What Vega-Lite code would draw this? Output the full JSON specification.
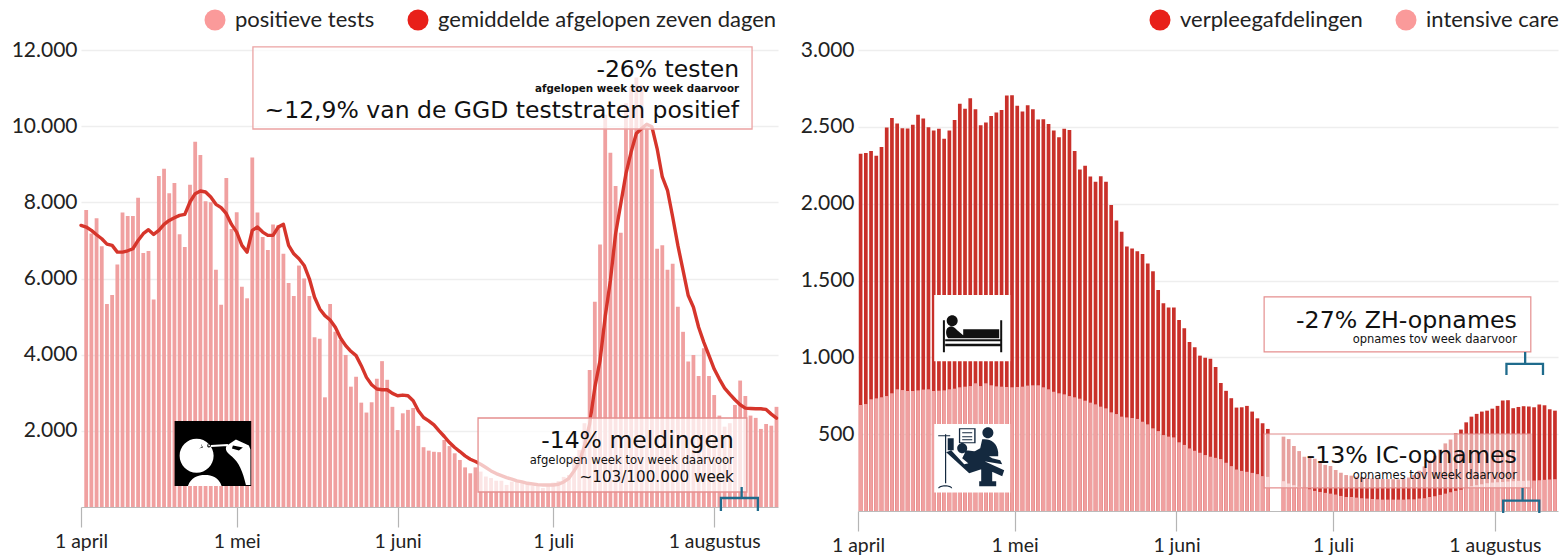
{
"$schema":"https://vega.github.io/schema/vega-lite/v6.json",
"padding":{"left":11,"top":9,"right":0,"bottom":0},
"background":"white",
"spacing":21,
"config":{"view":{"stroke":null},"text":{"font":"DejaVu Sans","color":"#111"},
"axisX":{"grid":false,"tickSize":20,"tickColor":"#b5b5b5","tickWidth":1.2,"domainColor":"#bbbbbb","domainWidth":1,"labelFont":"Lato","labelFontSize":19.4,"labelColor":"#222","labelPadding":5,"title":null,"labelFlush":false,"labelOverlap":false,"labelBound":false,"labelExpr":"'1 ' + ['januari','februari','maart','april','mei','juni','juli','augustus'][month(datum.value)]"},
"axisY":{"grid":true,"gridColor":"#eeeeee","gridWidth":1.5,"domain":false,"ticks":false,"labelFont":"Lato","labelFontSize":21,"labelColor":"#222","labelPadding":4,"title":null,"labelExpr":"replace(format(datum.value,','),',','.')"},
"legend":{"orient":"none","direction":"horizontal","title":null,"symbolType":"circle","symbolSize":441,"symbolStrokeWidth":0,"labelFont":"Lato","labelFontSize":22,"labelLimit":600,"labelColor":"#222","labelOffset":9,"columnPadding":32}
},
"resolve":{"scale":{"color":"independent","x":"independent","y":"independent"},"legend":{"color":"independent"}},
"hconcat":[
{"width":697,"height":457,
"layer":[
{"data":{"name":"daily","values":[
{"date":"2021-04-01T00:00","avg":7395},
{"date":"2021-04-02T00:00","tests":7800,"avg":7351},{"date":"2021-04-03T00:00","tests":7180,"avg":7263},{"date":"2021-04-04T00:00","tests":7580,"avg":7149},{"date":"2021-04-05T00:00","tests":6850,"avg":7044},{"date":"2021-04-06T00:00","tests":5330,"avg":6904},{"date":"2021-04-07T00:00","tests":5567,"avg":6869},{"date":"2021-04-08T00:00","tests":6370,"avg":6693},{"date":"2021-04-09T00:00","tests":7730,"avg":6693},{"date":"2021-04-10T00:00","tests":7640,"avg":6728},{"date":"2021-04-11T00:00","tests":7640,"avg":6781},{"date":"2021-04-12T00:00","tests":8120,"avg":7000},{"date":"2021-04-13T00:00","tests":6670,"avg":7176},{"date":"2021-04-14T00:00","tests":6720,"avg":7281},{"date":"2021-04-15T00:00","tests":5450,"avg":7158},{"date":"2021-04-16T00:00","tests":8690,"avg":7263},{"date":"2021-04-17T00:00","tests":8880,"avg":7421},{"date":"2021-04-18T00:00","tests":8240,"avg":7526},{"date":"2021-04-19T00:00","tests":8510,"avg":7597},{"date":"2021-04-20T00:00","tests":7160,"avg":7658},{"date":"2021-04-21T00:00","tests":6825,"avg":7684},{"date":"2021-04-22T00:00","tests":8460,"avg":8009},{"date":"2021-04-23T00:00","tests":9590,"avg":8228},{"date":"2021-04-24T00:00","tests":9240,"avg":8298},{"date":"2021-04-25T00:00","tests":8030,"avg":8272},{"date":"2021-04-26T00:00","tests":8000,"avg":8140},{"date":"2021-04-27T00:00","tests":6230,"avg":7947},{"date":"2021-04-28T00:00","tests":5310,"avg":7860},{"date":"2021-04-29T00:00","tests":8640,"avg":7702},{"date":"2021-04-30T00:00","tests":7300,"avg":7421},
{"date":"2021-05-01T00:00","tests":7740,"avg":7219},{"date":"2021-05-02T00:00","tests":5785,"avg":6869},{"date":"2021-05-03T00:00","tests":5480,"avg":6693},{"date":"2021-05-04T00:00","tests":9175,"avg":7263},{"date":"2021-05-05T00:00","tests":7730,"avg":7351},{"date":"2021-05-06T00:00","tests":7090,"avg":7219},{"date":"2021-05-07T00:00","tests":6750,"avg":7132},{"date":"2021-05-08T00:00","tests":7420,"avg":7132},{"date":"2021-05-09T00:00","tests":7400,"avg":7351},{"date":"2021-05-10T00:00","tests":6650,"avg":7421},{"date":"2021-05-11T00:00","tests":5880,"avg":6869},{"date":"2021-05-12T00:00","tests":5540,"avg":6649},{"date":"2021-05-13T00:00","tests":6340,"avg":6518},{"date":"2021-05-14T00:00","tests":6000,"avg":6343},{"date":"2021-05-15T00:00","tests":5540,"avg":5992},{"date":"2021-05-16T00:00","tests":4460,"avg":5508},{"date":"2021-05-17T00:00","tests":4420,"avg":5201},{"date":"2021-05-18T00:00","tests":2880,"avg":5026},{"date":"2021-05-19T00:00","tests":5330,"avg":4912},{"date":"2021-05-20T00:00","tests":4600,"avg":4719},{"date":"2021-05-21T00:00","tests":4385,"avg":4438},{"date":"2021-05-22T00:00","tests":3990,"avg":4237},{"date":"2021-05-23T00:00","tests":3160,"avg":4088},{"date":"2021-05-24T00:00","tests":3420,"avg":3974},{"date":"2021-05-25T00:00","tests":2740,"avg":3711},{"date":"2021-05-26T00:00","tests":2480,"avg":3404},{"date":"2021-05-27T00:00","tests":2750,"avg":3211},{"date":"2021-05-28T00:00","tests":3370,"avg":3097},{"date":"2021-05-29T00:00","tests":3830,"avg":3079},{"date":"2021-05-30T00:00","tests":3340,"avg":3079},{"date":"2021-05-31T00:00","tests":2630,"avg":2983},
{"date":"2021-06-01T00:00","tests":2020,"avg":2921},{"date":"2021-06-02T00:00","tests":2460,"avg":2939},{"date":"2021-06-03T00:00","tests":2550,"avg":2921},{"date":"2021-06-04T00:00","tests":2600,"avg":2790},{"date":"2021-06-05T00:00","tests":2130,"avg":2527},{"date":"2021-06-06T00:00","tests":1570,"avg":2351},{"date":"2021-06-07T00:00","tests":1480,"avg":2263},{"date":"2021-06-08T00:00","tests":1450,"avg":2158},{"date":"2021-06-09T00:00","tests":1440,"avg":2000},{"date":"2021-06-10T00:00","tests":1760,"avg":1851},{"date":"2021-06-11T00:00","tests":1600,"avg":1693},{"date":"2021-06-12T00:00","tests":1410,"avg":1562},{"date":"2021-06-13T00:00","tests":1235,"avg":1456},{"date":"2021-06-14T00:00","tests":1040,"avg":1343},{"date":"2021-06-15T00:00","tests":885,"avg":1255},{"date":"2021-06-16T00:00","tests":1040,"avg":1194},{"date":"2021-06-17T00:00","tests":930,"avg":1123},{"date":"2021-06-18T00:00","tests":800,"avg":1036},{"date":"2021-06-19T00:00","tests":760,"avg":948},{"date":"2021-06-20T00:00","tests":690,"avg":878},{"date":"2021-06-21T00:00","tests":690,"avg":825},{"date":"2021-06-22T00:00","tests":580,"avg":773},{"date":"2021-06-23T00:00","tests":665,"avg":729},{"date":"2021-06-24T00:00","tests":665,"avg":684},{"date":"2021-06-25T00:00","tests":630,"avg":658},{"date":"2021-06-26T00:00","tests":620,"avg":623},{"date":"2021-06-27T00:00","tests":550,"avg":605},{"date":"2021-06-28T00:00","tests":600,"avg":588},{"date":"2021-06-29T00:00","tests":500,"avg":579},{"date":"2021-06-30T00:00","tests":600,"avg":579},
{"date":"2021-07-01T00:00","tests":640,"avg":579},{"date":"2021-07-02T00:00","tests":680,"avg":597},{"date":"2021-07-03T00:00","tests":790,"avg":658},{"date":"2021-07-04T00:00","tests":840,"avg":754},{"date":"2021-07-05T00:00","tests":1320,"avg":948},{"date":"2021-07-06T00:00","tests":1500,"avg":1167},{"date":"2021-07-07T00:00","tests":2200,"avg":1606},{"date":"2021-07-08T00:00","tests":3600,"avg":2176},{"date":"2021-07-09T00:00","tests":5390,"avg":3140},{"date":"2021-07-10T00:00","tests":6890,"avg":3842},{"date":"2021-07-11T00:00","tests":10300,"avg":5000},{"date":"2021-07-12T00:00","tests":9300,"avg":5950},{"date":"2021-07-13T00:00","tests":8430,"avg":7176},{"date":"2021-07-14T00:00","tests":7200,"avg":7965},{"date":"2021-07-15T00:00","tests":10600,"avg":8754},{"date":"2021-07-16T00:00","tests":11030,"avg":9324},{"date":"2021-07-17T00:00","tests":11280,"avg":9807},{"date":"2021-07-18T00:00","tests":11080,"avg":9938},{"date":"2021-07-19T00:00","tests":9980,"avg":10052},{"date":"2021-07-20T00:00","tests":8870,"avg":9982},{"date":"2021-07-21T00:00","tests":6780,"avg":9412},{"date":"2021-07-22T00:00","tests":6870,"avg":8666},{"date":"2021-07-23T00:00","tests":6230,"avg":8316},{"date":"2021-07-24T00:00","tests":6390,"avg":7614},{"date":"2021-07-25T00:00","tests":5260,"avg":6869},{"date":"2021-07-26T00:00","tests":4600,"avg":6211},{"date":"2021-07-27T00:00","tests":3820,"avg":5552},{"date":"2021-07-28T00:00","tests":3990,"avg":5245},{"date":"2021-07-29T00:00","tests":3440,"avg":4719},{"date":"2021-07-30T00:00","tests":4170,"avg":4324},{"date":"2021-07-31T00:00","tests":3440,"avg":3974},
{"date":"2021-08-01T00:00","tests":2940,"avg":3623},{"date":"2021-08-02T00:00","tests":2400,"avg":3360},{"date":"2021-08-03T00:00","tests":2110,"avg":3123},{"date":"2021-08-04T00:00","tests":2200,"avg":2965},{"date":"2021-08-05T00:00","tests":2680,"avg":2816},{"date":"2021-08-06T00:00","tests":3320,"avg":2685},{"date":"2021-08-07T00:00","tests":2915,"avg":2597},{"date":"2021-08-08T00:00","tests":2400,"avg":2588},{"date":"2021-08-09T00:00","tests":2340,"avg":2579},{"date":"2021-08-10T00:00","tests":2050,"avg":2579},{"date":"2021-08-11T00:00","tests":2180,"avg":2562},{"date":"2021-08-12T00:00","tests":2135,"avg":2439},{"date":"2021-08-13T00:00","tests":2630,"avg":2334}
]},
"mark":{"type":"bar","size":3.8,"color":"#f0a0a0"},
"encoding":{
"x":{"field":"date","type":"temporal","scale":{"domain":["2021-04-01T00:00","2021-08-13T07:00"],"padding":0},"axis":{"values":[{"year":2021,"month":"apr","date":1},{"year":2021,"month":"may","date":1},{"year":2021,"month":"jun","date":1},{"year":2021,"month":"jul","date":1},{"year":2021,"month":"aug","date":1}]}},
"y":{"field":"tests","type":"quantitative","scale":{"domain":[0,12000],"nice":false},"axis":{"values":[2000,4000,6000,8000,10000,12000]},"stack":null}
}},
{"data":{"values":[{"series":"positieve tests"}]},"transform":[{"filter":"false"}],"mark":{"type":"bar"},
"encoding":{"color":{"field":"series","type":"nominal","scale":{"domain":["positieve tests","gemiddelde afgelopen zeven dagen"],"range":["#fa9a9a","#e8201a"]},"legend":{"legendX":123,"legendY":-41}}}},
{"data":{"name":"daily"},"mark":{"type":"line","color":"#d6352b","strokeWidth":3.4,"strokeCap":"round","strokeJoin":"round"},
"encoding":{"x":{"field":"date","type":"temporal"},"y":{"field":"avg","type":"quantitative"}}},
{"data":{"values":[{"start":"2021-05-04T03:00","end":"2021-08-08T07:00","top":12080,"bottom":9926}]},
"mark":{"type":"rect","fill":"white","fillOpacity":0.72,"stroke":"#eba3a3","strokeWidth":1.3},
"encoding":{"x":{"field":"start","type":"temporal"},"x2":{"field":"end"},"y":{"field":"top","type":"quantitative"},"y2":{"field":"bottom"}}},
{"data":{"values":[{"start":"2021-06-16T12:00","end":"2021-08-07T07:00","top":2337,"bottom":394}]},
"mark":{"type":"rect","fill":"white","fillOpacity":0.72,"stroke":"#e58f8f","strokeWidth":1.3},
"encoding":{"x":{"field":"start","type":"temporal"},"x2":{"field":"end"},"y":{"field":"top","type":"quantitative"},"y2":{"field":"bottom"}}},
{"data":{"values":[{"date":"2021-08-05T19:00","v":11292,"t":"-26% testen"},{"date":"2021-08-05T19:00","v":10215,"t":"~12,9% van de GGD teststraten positief"},{"date":"2021-08-04T19:00","v":1541,"t":"-14% meldingen"}]},
"mark":{"type":"text","align":"right","baseline":"alphabetic","fontSize":23.5},
"encoding":{"x":{"field":"date","type":"temporal"},"y":{"field":"v","type":"quantitative"},"text":{"field":"t"}}},
{"data":{"values":[{"date":"2021-08-05T19:00","v":10885,"t":"afgelopen week tov week daarvoor"}]},
"mark":{"type":"text","align":"right","baseline":"alphabetic","fontSize":10.3,"fontWeight":"bold"},
"encoding":{"x":{"field":"date","type":"temporal"},"y":{"field":"v","type":"quantitative"},"text":{"field":"t"}}},
{"data":{"values":[{"date":"2021-08-04T19:00","v":1121,"t":"afgelopen week tov week daarvoor"}]},
"mark":{"type":"text","align":"right","baseline":"alphabetic","fontSize":11.6},
"encoding":{"x":{"field":"date","type":"temporal"},"y":{"field":"v","type":"quantitative"},"text":{"field":"t"}}},
{"data":{"values":[{"date":"2021-08-04T19:00","v":664,"t":"~103/100.000 week"}]},
"mark":{"type":"text","align":"right","baseline":"alphabetic","fontSize":15.2},
"encoding":{"x":{"field":"date","type":"temporal"},"y":{"field":"v","type":"quantitative"},"text":{"field":"t"}}},
{"data":{"values":[{"i":1,"date":"2021-08-02T07:00","v":-105},{"i":2,"date":"2021-08-02T07:00","v":236},{"i":3,"date":"2021-08-06T07:00","v":236},{"i":4,"date":"2021-08-06T07:00","v":525},{"i":5,"date":"2021-08-06T07:00","v":236},{"i":6,"date":"2021-08-09T10:00","v":236},{"i":7,"date":"2021-08-09T10:00","v":-105}]},
"mark":{"type":"line","color":"#1f6b8c","strokeWidth":2.3},
"encoding":{"x":{"field":"date","type":"temporal"},"y":{"field":"v","type":"quantitative"},"order":{"field":"i"}}},
{"data":{"values":[{"date":"2021-04-26T10:00","v":1405}]},"mark":{"type":"point","filled":true,"opacity":1,"size":4,"color":"#000","strokeWidth":0,"shape":"M-38.3 -32.5H38.3V32.5H-38.3Z"},
"encoding":{"x":{"field":"date","type":"temporal"},"y":{"field":"v","type":"quantitative"}}},
{"data":{"values":[{"date":"2021-04-26T10:00","v":1405}]},"mark":{"type":"point","filled":true,"opacity":1,"size":4,"color":"#fff","strokeWidth":0,"shape":"M-33.3 2.2A17 17 0 1 1 0.7 2.2A17 17 0 1 1 -33.3 2.2ZM-25 32.5C-22 24 -15 21.5 -8 21.5C-1 21.5 6 24 8.7 32.5ZM14 -8L23 -14L36 -8L37.5 -4V31.5H33C30 18 26 9 19 3C15 0 11 -4 14 -8ZM-2 -8.5L15 -9.5V-7.5L-2 -6.5Z"},
"encoding":{"x":{"field":"date","type":"temporal"},"y":{"field":"v","type":"quantitative"}}},
{"data":{"values":[{"date":"2021-04-26T10:00","v":1405}]},"mark":{"type":"point","filled":true,"opacity":1,"size":4,"color":"#000","strokeWidth":0,"shape":"M-12 -10L-10 -6L-14 -5L-11 -6.5ZM-5 -10C-7 -6 -4 -5 -2 -7L-3 -7.5C-4 -6.5 -5.5 -7 -4 -10ZM20 -8L30 -6L26 -3L19 -5Z"},
"encoding":{"x":{"field":"date","type":"temporal"},"y":{"field":"v","type":"quantitative"}}}
]},
{"width":700,"height":461,
"layer":[
{"data":{"name":"hospital","values":[
{"date":"2021-04-01T12:00","total":2325,"ic":690},{"date":"2021-04-02T12:00","total":2329,"ic":696},{"date":"2021-04-03T12:00","total":2342,"ic":727},{"date":"2021-04-04T12:00","total":2312,"ic":733},{"date":"2021-04-05T12:00","total":2369,"ic":740},{"date":"2021-04-06T12:00","total":2496,"ic":748},{"date":"2021-04-07T12:00","total":2557,"ic":766},{"date":"2021-04-08T12:00","total":2522,"ic":792},{"date":"2021-04-09T12:00","total":2491,"ic":787},{"date":"2021-04-10T12:00","total":2489,"ic":781},{"date":"2021-04-11T12:00","total":2513,"ic":781},{"date":"2021-04-12T12:00","total":2579,"ic":785},{"date":"2021-04-13T12:00","total":2555,"ic":790},{"date":"2021-04-14T12:00","total":2498,"ic":792},{"date":"2021-04-15T12:00","total":2476,"ic":781},{"date":"2021-04-16T12:00","total":2487,"ic":783},{"date":"2021-04-17T12:00","total":2423,"ic":785},{"date":"2021-04-18T12:00","total":2476,"ic":792},{"date":"2021-04-19T12:00","total":2544,"ic":796},{"date":"2021-04-20T12:00","total":2651,"ic":805},{"date":"2021-04-21T12:00","total":2618,"ic":809},{"date":"2021-04-22T12:00","total":2686,"ic":813},{"date":"2021-04-23T12:00","total":2614,"ic":831},{"date":"2021-04-24T12:00","total":2511,"ic":813},{"date":"2021-04-25T12:00","total":2528,"ic":831},{"date":"2021-04-26T12:00","total":2570,"ic":818},{"date":"2021-04-27T12:00","total":2594,"ic":811},{"date":"2021-04-28T12:00","total":2610,"ic":809},{"date":"2021-04-29T12:00","total":2704,"ic":807},{"date":"2021-04-30T12:00","total":2706,"ic":805},
{"date":"2021-05-01T12:00","total":2638,"ic":807},{"date":"2021-05-02T12:00","total":2599,"ic":809},{"date":"2021-05-03T12:00","total":2640,"ic":816},{"date":"2021-05-04T12:00","total":2614,"ic":818},{"date":"2021-05-05T12:00","total":2548,"ic":818},{"date":"2021-05-06T12:00","total":2550,"ic":805},{"date":"2021-05-07T12:00","total":2518,"ic":792},{"date":"2021-05-08T12:00","total":2476,"ic":776},{"date":"2021-05-09T12:00","total":2432,"ic":766},{"date":"2021-05-10T12:00","total":2487,"ic":759},{"date":"2021-05-11T12:00","total":2480,"ic":748},{"date":"2021-05-12T12:00","total":2342,"ic":740},{"date":"2021-05-13T12:00","total":2222,"ic":731},{"date":"2021-05-14T12:00","total":2246,"ic":718},{"date":"2021-05-15T12:00","total":2176,"ic":705},{"date":"2021-05-16T12:00","total":2143,"ic":694},{"date":"2021-05-17T12:00","total":2178,"ic":679},{"date":"2021-05-18T12:00","total":2143,"ic":668},{"date":"2021-05-19T12:00","total":1992,"ic":642},{"date":"2021-05-20T12:00","total":1891,"ic":631},{"date":"2021-05-21T12:00","total":1817,"ic":614},{"date":"2021-05-22T12:00","total":1721,"ic":609},{"date":"2021-05-23T12:00","total":1709,"ic":605},{"date":"2021-05-24T12:00","total":1690,"ic":599},{"date":"2021-05-25T12:00","total":1672,"ic":581},{"date":"2021-05-26T12:00","total":1611,"ic":564},{"date":"2021-05-27T12:00","total":1560,"ic":538},{"date":"2021-05-28T12:00","total":1438,"ic":520},{"date":"2021-05-29T12:00","total":1352,"ic":494},{"date":"2021-05-30T12:00","total":1325,"ic":484},{"date":"2021-05-31T12:00","total":1325,"ic":479},
{"date":"2021-06-01T12:00","total":1243,"ic":447},{"date":"2021-06-02T12:00","total":1189,"ic":430},{"date":"2021-06-03T12:00","total":1100,"ic":407},{"date":"2021-06-04T12:00","total":1065,"ic":392},{"date":"2021-06-05T12:00","total":1011,"ic":379},{"date":"2021-06-06T12:00","total":998,"ic":364},{"date":"2021-06-07T12:00","total":991,"ic":353},{"date":"2021-06-08T12:00","total":937,"ic":346},{"date":"2021-06-09T12:00","total":833,"ic":338},{"date":"2021-06-10T12:00","total":782,"ic":314},{"date":"2021-06-11T12:00","total":734,"ic":292},{"date":"2021-06-12T12:00","total":673,"ic":270},{"date":"2021-06-13T12:00","total":675,"ic":261},{"date":"2021-06-14T12:00","total":684,"ic":255},{"date":"2021-06-15T12:00","total":647,"ic":248},{"date":"2021-06-16T12:00","total":603,"ic":240},{"date":"2021-06-17T12:00","total":571,"ic":227},{"date":"2021-06-18T12:00","total":534,"ic":222},
{"date":"2021-06-21T12:00","total":484,"ic":194},{"date":"2021-06-22T12:00","total":468,"ic":179},{"date":"2021-06-23T12:00","total":423,"ic":168},{"date":"2021-06-24T12:00","total":390,"ic":157},{"date":"2021-06-25T12:00","total":353,"ic":150},{"date":"2021-06-26T12:00","total":345,"ic":142},{"date":"2021-06-27T12:00","total":340,"ic":131},{"date":"2021-06-28T12:00","total":312,"ic":124},{"date":"2021-06-29T12:00","total":300,"ic":118},{"date":"2021-06-30T12:00","total":293,"ic":113},
{"date":"2021-07-01T12:00","total":267,"ic":107},{"date":"2021-07-02T12:00","total":249,"ic":98},{"date":"2021-07-03T12:00","total":234,"ic":91},{"date":"2021-07-04T12:00","total":230,"ic":91},{"date":"2021-07-05T12:00","total":223,"ic":87},{"date":"2021-07-06T12:00","total":218,"ic":83},{"date":"2021-07-07T12:00","total":215,"ic":81},{"date":"2021-07-08T12:00","total":212,"ic":78},{"date":"2021-07-09T12:00","total":210,"ic":76},{"date":"2021-07-10T12:00","total":208,"ic":74},{"date":"2021-07-11T12:00","total":208,"ic":74},{"date":"2021-07-12T12:00","total":207,"ic":74},{"date":"2021-07-13T12:00","total":206,"ic":74},{"date":"2021-07-14T12:00","total":210,"ic":74},{"date":"2021-07-15T12:00","total":218,"ic":76},{"date":"2021-07-16T12:00","total":235,"ic":76},{"date":"2021-07-17T12:00","total":262,"ic":81},{"date":"2021-07-18T12:00","total":290,"ic":83},{"date":"2021-07-19T12:00","total":330,"ic":91},{"date":"2021-07-20T12:00","total":360,"ic":96},{"date":"2021-07-21T12:00","total":400,"ic":105},{"date":"2021-07-22T12:00","total":440,"ic":113},{"date":"2021-07-23T12:00","total":465,"ic":122},{"date":"2021-07-24T12:00","total":505,"ic":131},{"date":"2021-07-25T12:00","total":530,"ic":139},{"date":"2021-07-26T12:00","total":577,"ic":150},{"date":"2021-07-27T12:00","total":614,"ic":161},{"date":"2021-07-28T12:00","total":632,"ic":168},{"date":"2021-07-29T12:00","total":647,"ic":174},{"date":"2021-07-30T12:00","total":653,"ic":181},{"date":"2021-07-31T12:00","total":666,"ic":185},
{"date":"2021-08-01T12:00","total":684,"ic":187},{"date":"2021-08-02T12:00","total":719,"ic":189},{"date":"2021-08-03T12:00","total":721,"ic":192},{"date":"2021-08-04T12:00","total":669,"ic":194},{"date":"2021-08-05T12:00","total":677,"ic":196},{"date":"2021-08-06T12:00","total":682,"ic":196},{"date":"2021-08-07T12:00","total":680,"ic":198},{"date":"2021-08-08T12:00","total":675,"ic":198},{"date":"2021-08-09T12:00","total":693,"ic":200},{"date":"2021-08-10T12:00","total":688,"ic":203},{"date":"2021-08-11T12:00","total":662,"ic":205},{"date":"2021-08-12T12:00","total":653,"ic":207}
]},
"mark":{"type":"bar","size":3.7,"color":"#c9302a"},
"encoding":{
"x":{"field":"date","type":"temporal","scale":{"domain":["2021-04-01T00:00","2021-08-13T02:00"],"padding":0},"axis":{"values":[{"year":2021,"month":"apr","date":1},{"year":2021,"month":"may","date":1},{"year":2021,"month":"jun","date":1},{"year":2021,"month":"jul","date":1},{"year":2021,"month":"aug","date":1}]}},
"y":{"field":"total","type":"quantitative","scale":{"domain":[0,3000],"nice":false},"axis":{"values":[500,1000,1500,2000,2500,3000]},"stack":null}
}},
{"data":{"values":[{"series":"verpleegafdelingen"}]},"transform":[{"filter":"false"}],"mark":{"type":"bar"},
"encoding":{"color":{"field":"series","type":"nominal","scale":{"domain":["verpleegafdelingen","intensive care"],"range":["#e8201a","#fa9a9a"]},"legend":{"legendX":291,"legendY":-41}}}},
{"data":{"name":"hospital"},"mark":{"type":"bar","size":3.7,"color":"#f0a0a0"},
"encoding":{"x":{"field":"date","type":"temporal"},"y":{"field":"ic","type":"quantitative","stack":null}}},
{"data":{"values":[{"start":"2021-06-17T19:00","end":"2021-08-07T21:00","top":1393,"bottom":1035}]},
"mark":{"type":"rect","fill":"white","fillOpacity":0.9,"stroke":"#e58f8f","strokeWidth":1.2},
"encoding":{"x":{"field":"start","type":"temporal"},"x2":{"field":"end"},"y":{"field":"top","type":"quantitative"},"y2":{"field":"bottom"}}},
{"data":{"values":[{"start":"2021-06-17T19:00","end":"2021-08-07T21:00","top":501,"bottom":150}]},
"mark":{"type":"rect","fill":"white","fillOpacity":0.55,"stroke":"#e58f8f","strokeWidth":1.2},
"encoding":{"x":{"field":"start","type":"temporal"},"x2":{"field":"end"},"y":{"field":"top","type":"quantitative"},"y2":{"field":"bottom"}}},
{"data":{"values":[{"date":"2021-08-05T05:00","v":1193,"t":"-27% ZH-opnames"},{"date":"2021-08-05T05:00","v":312,"t":"-13% IC-opnames"}]},
"mark":{"type":"text","align":"right","baseline":"alphabetic","fontSize":23.7},
"encoding":{"x":{"field":"date","type":"temporal"},"y":{"field":"v","type":"quantitative"},"text":{"field":"t"}}},
{"data":{"values":[{"date":"2021-08-05T05:00","v":1091,"t":"opnames tov week daarvoor"},{"date":"2021-08-05T05:00","v":208,"t":"opnames tov week daarvoor"}]},
"mark":{"type":"text","align":"right","baseline":"alphabetic","fontSize":11.5},
"encoding":{"x":{"field":"date","type":"temporal"},"y":{"field":"v","type":"quantitative"},"text":{"field":"t"}}},
{"data":{"values":[{"i":1,"date":"2021-08-03T05:00","v":885},{"i":2,"date":"2021-08-03T05:00","v":957},{"i":3,"date":"2021-08-06T19:00","v":957},{"i":4,"date":"2021-08-06T19:00","v":1035},{"i":5,"date":"2021-08-06T19:00","v":957},{"i":6,"date":"2021-08-10T05:00","v":957},{"i":7,"date":"2021-08-10T05:00","v":885}]},
"mark":{"type":"line","color":"#1f6b8c","strokeWidth":2.3},
"encoding":{"x":{"field":"date","type":"temporal"},"y":{"field":"v","type":"quantitative"},"order":{"field":"i"}}},
{"data":{"values":[{"i":1,"date":"2021-08-02T14:00","v":-13},{"i":2,"date":"2021-08-02T14:00","v":67},{"i":3,"date":"2021-08-06T07:00","v":67},{"i":4,"date":"2021-08-06T07:00","v":150},{"i":5,"date":"2021-08-06T07:00","v":67},{"i":6,"date":"2021-08-09T12:00","v":67},{"i":7,"date":"2021-08-09T12:00","v":-13}]},
"mark":{"type":"line","color":"#1f6b8c","strokeWidth":2.3},
"encoding":{"x":{"field":"date","type":"temporal"},"y":{"field":"v","type":"quantitative"},"order":{"field":"i"}}},
{"data":{"values":[{"date":"2021-04-22T21:00","v":1190}]},"mark":{"type":"point","filled":true,"opacity":1,"size":4,"color":"#fff","strokeWidth":0,"shape":"M-38 -33.2H38V33.2H-38Z"},
"encoding":{"x":{"field":"date","type":"temporal"},"y":{"field":"v","type":"quantitative"}}},
{"data":{"values":[{"date":"2021-04-22T21:00","v":1190}]},"mark":{"type":"point","filled":true,"opacity":1,"size":4,"color":"#111","strokeWidth":0,"shape":"M-29.3 -8H-27.3V24H-29.3ZM28 -8H30V24H28ZM-27 11H28V13H-27ZM-27 15.5H28V18H-27ZM-25.5 -7.5A5.5 5.5 0 1 1 -14.5 -7.5A5.5 5.5 0 1 1 -25.5 -7.5ZM-25 0C-22 -3 -18 -2 -15 2L-9 7V1H27V10H-24C-26 8 -27 3 -25 0Z"},
"encoding":{"x":{"field":"date","type":"temporal"},"y":{"field":"v","type":"quantitative"}}},
{"data":{"values":[{"date":"2021-04-22T21:00","v":343}]},"mark":{"type":"point","filled":true,"opacity":1,"size":4,"color":"#fff","strokeWidth":0,"shape":"M-38 -34.3H38V34.3H-38Z"},
"encoding":{"x":{"field":"date","type":"temporal"},"y":{"field":"v","type":"quantitative"}}},
{"data":{"values":[{"date":"2021-04-22T21:00","v":343}]},"mark":{"type":"point","filled":true,"opacity":1,"size":4,"color":"#14293f","strokeWidth":0,"shape":"M10.2 -25.6A5.5 5.5 0 1 1 21.2 -25.6A5.5 5.5 0 1 1 10.2 -25.6ZM10 -19C18 -20 25 -16 26 -6L26 -2H10L5 -4L-1 -3L-1 -5L8 -10ZM-13.3 -30H3.4V-15H-13.3ZM-12 -29V-16H2V-29ZM-10 -26H0V-25H-10ZM-10 -22H0V-21H-10ZM-10 -19H0V-18H-10ZM-27.2 -24H-26V25H-27.2ZM-34 -23H-22V-22H-34ZM-24.5 -20H-18.5V-8H-24.5ZM-34 30C-34 26 -20 26 -20 30L-21 30C-22 27.5 -32 27.5 -33 30ZM-15 -10A5 5 0 1 1 -5 -10A5 5 0 1 1 -15 -10ZM-26 -6L-21 -8L-8 6L10 2L32 12L30 18L12 10L-3 15ZM-6 -8L10 -6L20 0L28 2L30 6L12 3L-4 5L-10 0ZM9 8H20V23H24V28H7V23H9Z"},
"encoding":{"x":{"field":"date","type":"temporal"},"y":{"field":"v","type":"quantitative"}}}
]}
]
}
